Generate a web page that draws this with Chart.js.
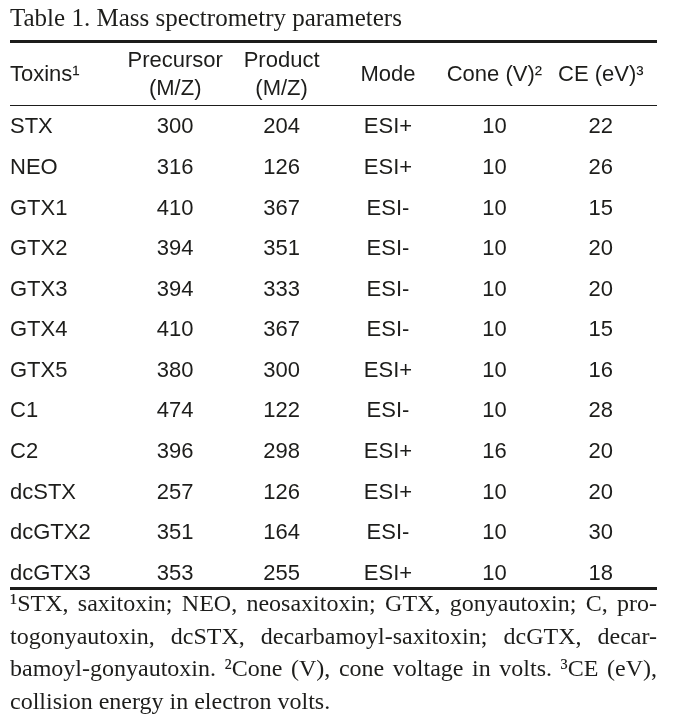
<!DOCTYPE html>
<html>
<head>
<meta charset="utf-8">
<script src="https://cdn.jsdelivr.net/npm/chart.js@4.4.0/dist/chart.umd.min.js"></script>
<style>
  body { margin: 0; background: #fff; }
  #wrap { width: 676px; height: 720px; }
</style>
</head>
<body>
<div id="wrap"><canvas id="tabla" width="676" height="720"></canvas></div>
<script>
// datos de la tabla
const toxins = ['STX', 'NEO', 'GTX1', 'GTX2', 'GTX3', 'GTX4', 'GTX5', 'C1', 'C2', 'dcSTX', 'dcGTX2', 'dcGTX3'];
const precursor = [300, 316, 410, 394, 394, 410, 380, 474, 396, 257, 351, 353];
const product = [204, 126, 367, 351, 333, 367, 300, 122, 298, 126, 164, 255];
const mode = ['ESI+', 'ESI+', 'ESI-', 'ESI-', 'ESI-', 'ESI-', 'ESI+', 'ESI-', 'ESI+', 'ESI+', 'ESI-', 'ESI+'];
const cone = [10, 10, 10, 10, 10, 10, 10, 10, 16, 10, 10, 10];
const ce = [22, 26, 15, 20, 20, 15, 16, 28, 20, 20, 30, 18];

const columns = ['precursor', 'product', 'mode', 'cone', 'ce'];
const headers = [['Precursor', '(M/Z)'], ['Product', '(M/Z)'], ['Mode'], ['Cone (V)²'], ['CE (eV)³']];
const rowHeader = 'Toxins¹';
const titleText = 'Table 1. Mass spectrometry parameters';
const footnote = [
    '¹STX, saxitoxin; NEO, neosaxitoxin; GTX, gonyautoxin; C, pro-',
    'togonyautoxin, dcSTX, decarbamoyl-saxitoxin; dcGTX, decar-',
    'bamoyl-gonyautoxin. ²Cone (V), cone voltage in volts. ³CE (eV),',
    'collision energy in electron volts.'
];

const ink = '#1d1d1b';
const sans = '"Liberation Sans", Arial, sans-serif';
const serif = '"Liberation Serif", "Times New Roman", serif';

const columnValues = [precursor, product, mode, cone, ce];
const datasets = columns.map((c, j) => ({
    label: c,
    data: toxins.map((t, i) => ({ x: c, y: t, v: columnValues[j][i] })),
    pointRadius: 0,
    showLine: false
}));

// dibuja reglas, cabecera, celdas y nota al pie
const tablePlugin = {
    id: 'tablePlugin',
    afterDatasetsDraw(chart) {
        const { ctx, chartArea, scales } = chart;
        const left = scales.y.left;
        const right = chartArea.right + 3;
        ctx.save();
        ctx.fillStyle = ink;

        ctx.fillRect(left, Math.round(chartArea.top - 67), right - left, 3);
        ctx.fillRect(left, Math.round(chartArea.top - 2), right - left, 1);
        ctx.fillRect(left, Math.round(chartArea.bottom - 7), right - left, 3);

        ctx.font = '22px ' + sans;
        ctx.textBaseline = 'middle';
        const headMid = chartArea.top - 32;
        ctx.textAlign = 'left';
        ctx.fillText(rowHeader, left, headMid);
        ctx.textAlign = 'center';
        headers.forEach((lines, j) => {
            const x = scales.x.getPixelForValue(j);
            lines.forEach((s, k) => ctx.fillText(s, x, headMid + (k - (lines.length - 1) / 2) * 28));
        });

        chart.data.datasets.forEach((ds, j) => {
            chart.getDatasetMeta(j).data.forEach((pt, i) => {
                ctx.fillText(String(ds.data[i].v), pt.x, pt.y);
            });
        });

        ctx.font = '24px ' + serif;
        ctx.textAlign = 'left';
        ctx.textBaseline = 'alphabetic';
        footnote.forEach((line, k) => {
            const y = chartArea.bottom + 17 + k * 32.5;
            if (k === footnote.length - 1) {
                ctx.fillText(line, left, y);
                return;
            }
            const words = line.split(' ');
            const wsum = words.reduce((a, w) => a + ctx.measureText(w).width, 0);
            const gap = (right - left - wsum) / (words.length - 1);
            let x = left;
            words.forEach(w => {
                ctx.fillText(w, x, y);
                x += ctx.measureText(w).width + gap;
            });
        });
        ctx.restore();
    }
};

new Chart(document.getElementById('tabla'), {
    type: 'scatter',
    data: { datasets },
    options: {
        responsive: false,
        animation: false,
        layout: { padding: { left: 10, right: 22, top: 0, bottom: 126 } },
        scales: {
            x: { type: 'category', labels: columns, offset: true, display: false },
            y: {
                type: 'category',
                labels: toxins,
                offset: true,
                grid: { display: false },
                border: { display: false },
                ticks: { crossAlign: 'far', padding: 0, color: ink, font: { family: sans, size: 22 } },
                afterFit: s => { s.width = 112; }
            }
        },
        plugins: {
            legend: { display: false },
            tooltip: { enabled: false },
            title: {
                display: true,
                text: titleText,
                align: 'start',
                color: ink,
                font: { family: serif, size: 25, weight: 'normal' },
                padding: { top: 4, bottom: 73 }
            }
        }
    },
    plugins: [tablePlugin]
});
</script>
</body>
</html>
